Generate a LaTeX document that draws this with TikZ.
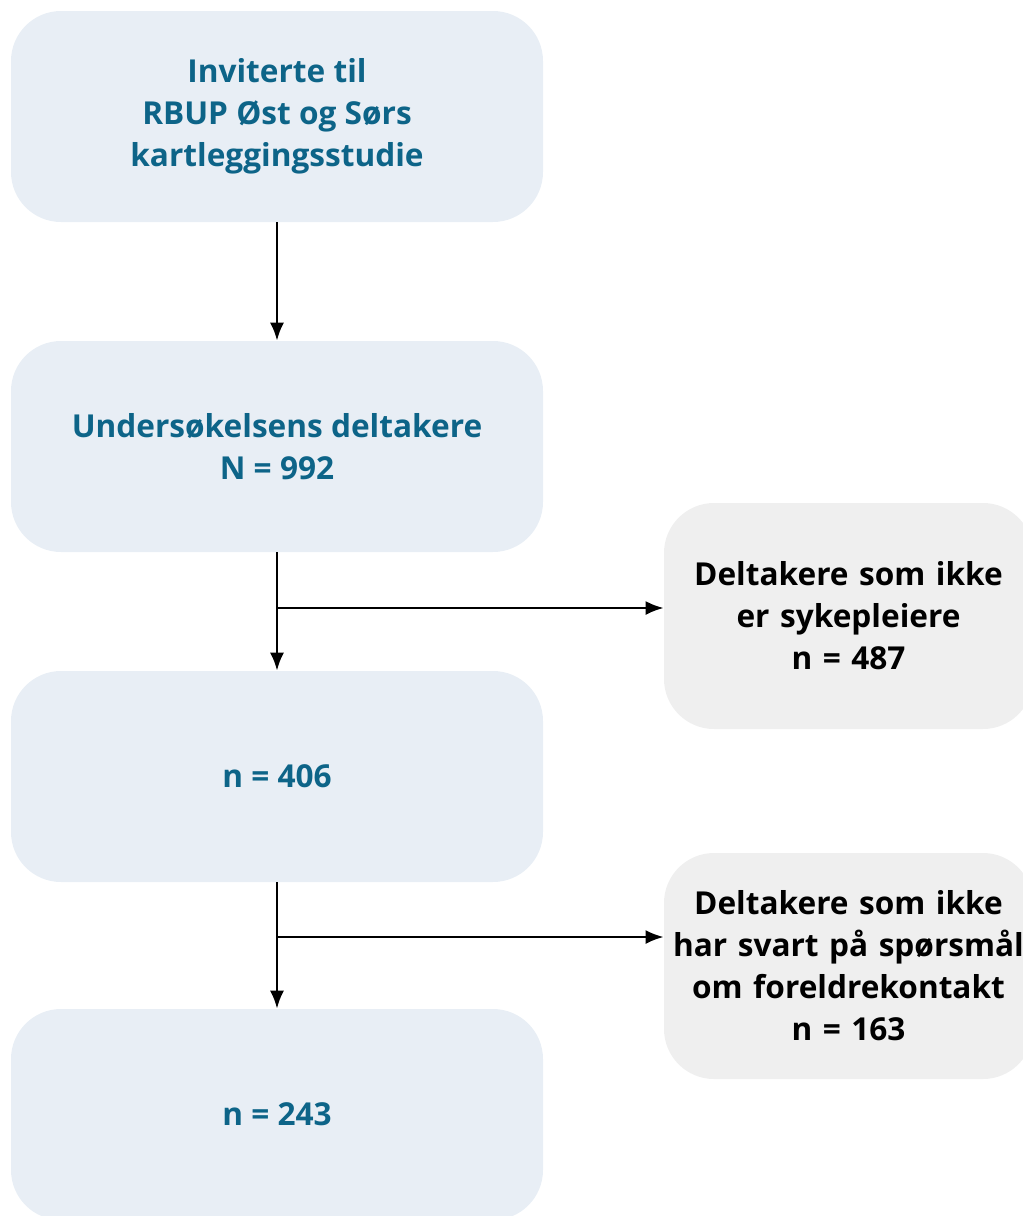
\documentclass[tikz,border=0pt]{standalone}
\usepackage{fontspec}
\setmainfont{Open Sans}
\usepackage{tikz}
\usetikzlibrary{arrows.meta}
\definecolor{boxblue}{HTML}{E8EEF5}
\definecolor{boxgrey}{HTML}{EFEFEF}
\definecolor{teal}{HTML}{0D6488}
\begin{document}
\begin{tikzpicture}[x=0.5pt, y=-0.5pt,
    mainbox/.style={fill=boxblue, rounded corners=25pt, minimum width=266pt,
      minimum height=105.5pt, align=center, text=teal,
      font=\fontsize{15.8pt}{21pt}\selectfont\bfseries},
    sidebox/.style={fill=boxgrey, rounded corners=25pt, minimum width=184.5pt,
      text width=176pt, minimum height=113pt, align=center, text=black,
      font=\fontsize{15.8pt}{21pt}\selectfont\bfseries},
    flow/.style={line width=1.1pt, -{Latex[length=9pt, width=7pt]}}]
  \useasboundingbox (0,0) rectangle (1023,1216);
  % main column
  \node[mainbox] (invited) at (277, 116.5) {Inviterte til\\RBUP Øst og Sørs\\kartleggingsstudie};
  \node[mainbox] (survey) at (277, 446.5) {Undersøkelsens deltakere\\N = 992};
  \node[mainbox] (nurses) at (277, 776.5) {n = 406};
  \node[mainbox] (answered) at (277, 1114.5) {n = 243};
  % excluded
  \node[sidebox] (notnurse) at (848.5, 616) {Deltakere som ikke\\er sykepleiere\\n = 487};
  \node[sidebox] (noanswer) at (848.5, 966) {Deltakere som ikke\\har svart på spørsmål\\om foreldrekontakt\\n = 163};
  \coordinate (split1) at (277, 608);
  \coordinate (split2) at (277, 937);
  % arrows
  \draw[flow] (invited) -- (survey);
  \draw[flow] (survey) -- (nurses);
  \draw[flow] (nurses) -- (answered);
  \draw[flow] (split1) -- (split1 -| notnurse.west);
  \draw[flow] (split2) -- (split2 -| noanswer.west);
\end{tikzpicture}
\end{document}
